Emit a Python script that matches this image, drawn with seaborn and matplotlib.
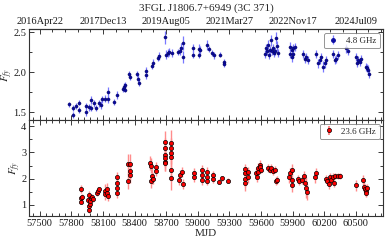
import numpy as np
import pandas as pd
import matplotlib
matplotlib.use('Agg')
import matplotlib.pyplot as plt
import seaborn as sns
from matplotlib.ticker import MultipleLocator, AutoMinorLocator, FormatStrFormatter

# 4.8 GHz light curve
mjd_48 = [57777, 57812, 57812, 57844, 57872, 57872, 57935, 57935, 57966, 57989,
          57989, 58014, 58036, 58061, 58084, 58093, 58124, 58146, 58146, 58203,
          58235, 58290, 58298, 58305, 58314, 58345, 58361, 58420, 58430, 58440,
          58512, 58512, 58565, 58575, 58620, 58630, 58692, 58700, 58715, 58730,
          58760, 58815, 58830, 58845, 58860, 58860, 58957, 58957, 59013, 59025,
          59013, 59090, 59110, 59140, 59150, 59212, 59245, 59250,
          59640, 59650, 59660, 59670, 59680, 59690, 59700, 59705, 59715, 59725,
          59735, 59745, 59750, 59760, 59875, 59890, 59906, 59875, 59890, 59906,
          59922, 60001, 60017, 60032, 60048, 60127, 60142, 60158, 60174, 60190,
          60206, 60222, 60284, 60300, 60316, 60332, 60411, 60427, 60506, 60510,
          60521, 60537, 60553, 60600, 60605, 60615, 60625]
flux_48 = [1.60, 1.55, 1.46, 1.575, 1.62, 1.53, 1.575, 1.50, 1.56, 1.65,
           1.55, 1.61, 1.55, 1.61, 1.59, 1.66, 1.67, 1.75, 1.66, 1.63,
           1.71, 1.79, 1.82, 1.78, 1.84, 1.98, 1.94, 1.98, 1.92, 1.87,
           2.02, 1.96, 2.08, 2.11, 2.18, 2.20, 2.44, 2.22, 2.24, 2.25,
           2.24, 2.25, 2.27, 2.31, 2.37, 2.19, 2.30, 2.22, 2.29, 2.28,
           2.22, 2.34, 2.29, 2.24, 2.21, 2.22, 2.13, 2.10,
           2.23, 2.30, 2.26, 2.34, 2.22, 2.28, 2.40, 2.26, 2.31, 2.24,
           2.27, 2.43, 2.33, 2.24, 2.32, 2.275, 2.30, 2.23, 2.19, 2.23,
           2.32, 2.23, 2.17, 2.19, 2.15, 2.23, 2.11, 2.15, 2.19, 2.07,
           2.11, 2.15, 2.23, 2.15, 2.17, 2.21, 2.30, 2.27, 2.19, 2.12,
           2.15, 2.13, 2.17, 2.07, 2.05, 2.03, 1.98]
err_48 = [0.03, 0.04, 0.04, 0.04, 0.03, 0.04, 0.04, 0.05, 0.04, 0.05,
          0.04, 0.04, 0.04, 0.04, 0.05, 0.04, 0.04, 0.07, 0.05, 0.04,
          0.05, 0.04, 0.04, 0.03, 0.04, 0.04, 0.04, 0.04, 0.04, 0.04,
          0.04, 0.04, 0.04, 0.05, 0.04, 0.05, 0.08, 0.06, 0.05, 0.05,
          0.05, 0.04, 0.05, 0.06, 0.09, 0.07, 0.05, 0.04, 0.06, 0.05,
          0.04, 0.06, 0.04, 0.04, 0.04, 0.03, 0.04, 0.04,
          0.05, 0.06, 0.05, 0.06, 0.05, 0.05, 0.07, 0.05, 0.05, 0.05,
          0.05, 0.07, 0.06, 0.05, 0.06, 0.05, 0.05, 0.05, 0.06, 0.05,
          0.05, 0.05, 0.05, 0.05, 0.05, 0.05, 0.06, 0.05, 0.05, 0.07,
          0.06, 0.05, 0.05, 0.05, 0.05, 0.05, 0.06, 0.05, 0.05, 0.05,
          0.05, 0.05, 0.05, 0.05, 0.05, 0.06, 0.05]

# 23.6 GHz light curve
mjd_236 = [57888, 57888, 57895, 57900, 57965, 57962, 57965, 57968, 57975, 57980,
           57990, 58000, 58010, 58040, 58050, 58060, 58115, 58120, 58140, 58140,
           58145, 58238, 58238, 58238, 58238, 58340, 58355, 58360, 58360, 58340,
           58550, 58560, 58565, 58555, 58575, 58600, 58600, 58690, 58690, 58690,
           58690, 58690, 58690, 58750, 58750, 58750, 58750, 58750, 58750, 58820,
           58835, 58850, 58860, 58960, 58960, 59040, 59040, 59040, 59086, 59086,
           59086, 59143, 59143, 59206, 59228, 59291, 59450, 59450, 59450, 59450,
           59480, 59480, 59550, 59560, 59575, 59575, 59590, 59595, 59600, 59670,
           59685, 59700, 59715, 59730, 59740, 59755, 59870, 59880, 59890, 59890,
           59895, 59950, 59960, 59985, 60005, 60015, 60025, 60040, 60110, 60125,
           60220, 60230, 60245, 60255, 60265, 60280, 60290, 60300, 60330, 60355,
           60500, 60565, 60575, 60585, 60595, 60600, 60610]
flux_236 = [1.62, 1.25, 1.12, 1.30, 1.38, 1.20, 0.95, 0.80, 1.05, 1.15,
            1.28, 1.30, 1.22, 1.45, 1.55, 1.60, 1.55, 1.40, 1.60, 1.45,
            1.35, 2.05, 1.85, 1.65, 1.45, 2.55, 2.55, 2.30, 2.15, 1.90,
            2.60, 2.50, 2.10, 1.90, 2.00, 2.45, 2.30, 3.41, 3.16, 2.90,
            2.78, 2.65, 2.59, 3.35, 3.15, 2.97, 2.84, 2.33, 2.01, 1.95,
            2.15, 2.25, 1.80, 2.20, 2.08, 2.33, 2.14, 1.95, 2.25, 2.05,
            1.92, 2.15, 1.98, 1.89, 2.01, 1.92, 2.36, 2.20, 2.00, 1.85,
            2.25, 2.05, 2.20, 2.08, 2.27, 2.40, 2.52, 2.45, 2.35, 2.40,
            2.35, 2.40, 2.30, 2.35, 1.90, 1.95, 2.05, 2.20, 2.35, 1.95,
            1.75, 2.00, 1.90, 1.95, 2.10, 1.85, 1.65, 1.50, 2.05, 2.20,
            2.00, 1.90, 1.80, 2.05, 1.95, 2.05, 1.85, 2.10, 2.10, 2.10,
            1.75, 1.95, 1.70, 1.60, 1.55, 1.45, 1.65]
err_236 = [0.15, 0.12, 0.10, 0.10, 0.15, 0.12, 0.10, 0.10, 0.10, 0.12,
           0.10, 0.12, 0.10, 0.12, 0.12, 0.10, 0.25, 0.20, 0.25, 0.20,
           0.20, 0.20, 0.20, 0.20, 0.20, 0.40, 0.40, 0.30, 0.30, 0.30,
           0.25, 0.30, 0.30, 0.25, 0.20, 0.20, 0.20, 0.40, 0.40, 0.40,
           0.35, 0.35, 0.30, 0.50, 0.40, 0.40, 0.40, 0.40, 0.45, 0.20,
           0.20, 0.20, 0.20, 0.20, 0.20, 0.20, 0.20, 0.20, 0.20, 0.20,
           0.15, 0.15, 0.15, 0.10, 0.10, 0.10, 0.20, 0.25, 0.30, 0.30,
           0.20, 0.20, 0.20, 0.20, 0.20, 0.20, 0.20, 0.15, 0.15, 0.15,
           0.15, 0.15, 0.15, 0.15, 0.15, 0.15, 0.20, 0.20, 0.20, 0.20,
           0.25, 0.15, 0.15, 0.15, 0.20, 0.25, 0.40, 0.30, 0.20, 0.20,
           0.15, 0.15, 0.20, 0.15, 0.15, 0.15, 0.15, 0.12, 0.10, 0.10,
           0.20, 0.20, 0.20, 0.20, 0.20, 0.15, 0.15]

# top axis: calendar dates at MJD positions
date_ticks = [57500, 58100, 58700, 59300, 59900, 60500]
date_labels = ['2016Apr22', '2017Dec13', '2019Aug05', '2021Mar27', '2022Nov17', '2024Jul09']

df48 = pd.DataFrame({'mjd': mjd_48, 'flux': flux_48, 'err': err_48})
df236 = pd.DataFrame({'mjd': mjd_236, 'flux': flux_236, 'err': err_236})

sns.set_theme(style='ticks')
plt.rcParams['font.family'] = ['Liberation Serif', 'DejaVu Serif']
plt.rcParams['mathtext.fontset'] = 'stix'
plt.rcParams['axes.edgecolor'] = '0.2'
plt.rcParams['axes.linewidth'] = 0.8

fig, (ax1, ax2) = plt.subplots(2, 1, figsize=(3.89, 2.43), dpi=100, sharex=True,
                               gridspec_kw=dict(hspace=0, height_ratios=[91, 96]))
fig.subplots_adjust(left=0.075, right=0.985, top=0.88, bottom=0.111)

blue_m = '#0a0aa0'
blue_e = '#7878ff'
ax1.errorbar(df48['mjd'], df48['flux'], yerr=df48['err'], fmt='none',
             ecolor=blue_e, elinewidth=0.9, zorder=2)
sns.scatterplot(data=df48, x='mjd', y='flux', color=blue_m, s=5,
                edgecolor='#000050', linewidth=0.3, ax=ax1, zorder=3)
h1 = ax1.errorbar([np.nan], [np.nan], yerr=[0.1], fmt='o', ms=2.5, color=blue_m,
                  ecolor=blue_e, elinewidth=0.9, label='4.8 GHz')

red_e = '#ff8c8c'
ax2.errorbar(df236['mjd'], df236['flux'], yerr=df236['err'], fmt='none',
             ecolor=red_e, elinewidth=1.0, zorder=2)
sns.scatterplot(data=df236, x='mjd', y='flux', color='red', s=9,
                edgecolor='black', linewidth=0.5, ax=ax2, zorder=3)
h2 = ax2.errorbar([np.nan], [np.nan], yerr=[0.1], fmt='o', ms=3, color='red',
                  mec='black', mew=0.5, ecolor=red_e, label='23.6 GHz')

for ax, h in [(ax1, h1), (ax2, h2)]:
    leg = ax.legend(handles=[h], loc='upper right', fontsize=6.5, frameon=True,
                    fancybox=True, edgecolor='0.4', handlelength=1.2,
                    borderpad=0.4, borderaxespad=0.4)
    leg.get_frame().set_linewidth(0.6)
    ax.xaxis.set_major_locator(MultipleLocator(300, offset=200))
    ax.xaxis.set_minor_locator(AutoMinorLocator(5))
    ax.tick_params(which='both', direction='in', labelsize=7.5, pad=2,
                   right=True, width=0.6, colors='0.1')
    ax.tick_params(which='major', length=3.5)
    ax.tick_params(which='minor', length=2)
    ax.set_ylabel(r'$F_{fy}$', fontsize=8, labelpad=-1)

ax1.tick_params(which='both', top=False, bottom=True)
ax2.tick_params(which='both', top=True, bottom=True)

ax1.set_xlim(57400, 60760)
ax1.set_ylim(1.4, 2.54)
ax1.yaxis.set_major_locator(MultipleLocator(0.5))
ax1.yaxis.set_minor_locator(AutoMinorLocator(2))
ax1.yaxis.set_major_formatter(FormatStrFormatter('%.1f'))
ax1.set_xlabel('')

ax2.set_ylim(0.58, 4.23)
ax2.yaxis.set_major_locator(MultipleLocator(1))
ax2.yaxis.set_minor_locator(AutoMinorLocator(2))
ax2.set_xlabel('MJD', fontsize=8, labelpad=1)

sec = ax1.secondary_xaxis('top')
sec.set_xticks(date_ticks, date_labels)
sec.xaxis.set_minor_locator(AutoMinorLocator(5))
sec.tick_params(which='both', direction='in', labelsize=7.5, pad=2, width=0.6, colors='0.1')
sec.tick_params(which='major', length=3.5)
sec.tick_params(which='minor', length=2)

fig.text(0.53, 0.965, '3FGL J1806.7+6949 (3C 371)', ha='center', va='center', fontsize=8)

plt.savefig('out.png', dpi=100)
